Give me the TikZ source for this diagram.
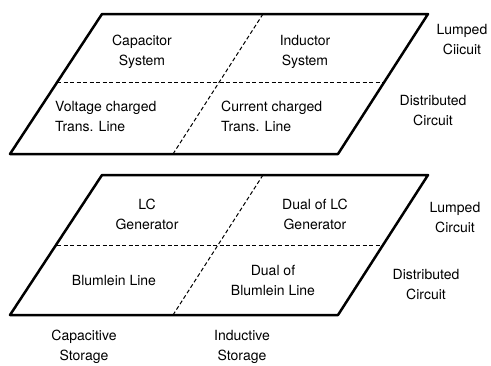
\documentclass[tikz,border=0pt]{standalone}
\usepackage{fontspec}
\setmainfont{TeX Gyre Heros}

\begin{document}
\begin{tikzpicture}[x=1pt,y=-1pt,
    frame/.style={line width=2.5pt, line join=round},
    split/.style={line width=1pt, dash pattern=on 4pt off 2.5pt},
    lbl/.style={font=\fontsize{14}{20}\selectfont, align=center, inner sep=0pt}]

    \useasboundingbox (0,0) rectangle (491,365);

    % upper plane
    \draw[frame] (102,14) -- (428,14) -- (338,154) -- (10,154) -- cycle;
    \draw[split] (57,82) -- (383,82);
    \draw[split] (263,14) -- (173,154);

    \draw(142,52) node[lbl] (capsys) {Capacitor\\System};
    \draw(305,52) node[lbl] (indsys) {Inductor\\System};
    \draw(55,116) node[lbl, anchor=west, align=left] (vline) {Voltage charged\\Trans. Line};
    \draw(221,116) node[lbl, anchor=west, align=left] (cline) {Current charged\\Trans. Line};
    \draw(462,40) node[lbl] (lump1) {Lumped\\Ciicuit};
    \draw(433,111) node[lbl] (dist1) {Distributed\\Circuit};

    % lower plane
    \draw[frame] (102,175) -- (428,175) -- (338,315) -- (10,315) -- cycle;
    \draw[split] (57,245) -- (383,245);
    \draw[split] (263,175) -- (173,315);

    \draw(147,214) node[lbl] (lcgen) {LC\\Generator};
    \draw(315,214) node[lbl] (duallc) {Dual of LC\\Generator};
    \draw(114,280) node[lbl] (blum) {Blumlein Line};
    \draw(273,280) node[lbl] (dualblum) {Dual of\\Blumlein Line};
    \draw(455,218) node[lbl] (lump2) {Lumped\\Circuit};
    \draw(426,285) node[lbl] (dist2) {Distributed\\Circuit};

    % storage kinds
    \draw(84,347) node[lbl] (capst) {Capacitive\\Storage};
    \draw(242,347) node[lbl] (indst) {Inductive\\Storage};

\end{tikzpicture}
\end{document}
